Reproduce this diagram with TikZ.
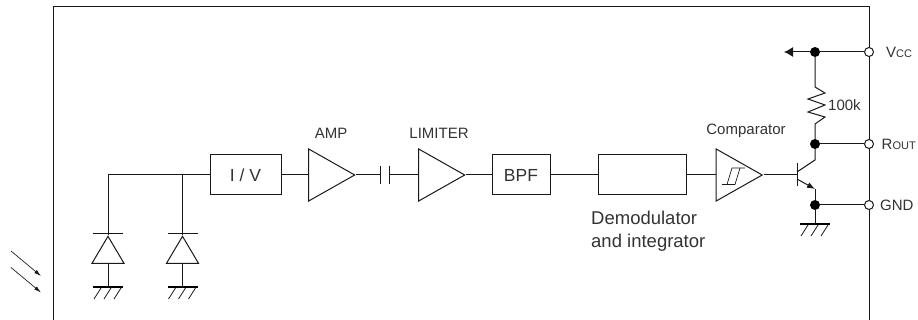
\documentclass[tikz,border=0pt]{standalone}
\usepackage{fontspec}
\setmainfont{Liberation Sans}
\usetikzlibrary{arrows.meta, positioning, shapes.geometric}
\tikzset{
  wire/.style={line width=1pt, draw=black!90},
  block/.style={draw=black!90, line width=1pt, inner sep=0pt, font=\fontsize{17.5}{19}\selectfont, text=black!80},
  amptri/.style={isosceles triangle, isosceles triangle stretches, draw=black!90, line width=1pt, inner sep=0pt, minimum width=52pt, minimum height=46pt, anchor=apex},
  dioderi/.style={isosceles triangle, isosceles triangle stretches, shape border rotate=90, draw=black!90, line width=1pt, inner sep=0pt, minimum width=32pt, minimum height=27pt, anchor=apex},
  dotnode/.style={circle, fill=black, inner sep=0pt, minimum size=10pt},
  pinnode/.style={circle, draw=black!90, fill=white, line width=1pt, inner sep=0pt, minimum size=9pt},
  lbl/.style={inner sep=0pt, text=black!80, font=\fontsize{15}{17}\selectfont},
  lblbig/.style={inner sep=0pt, text=black!80, font=\fontsize{18.5}{23}\selectfont, align=left},
}
\newcommand{\gndmark}[2]{%
  \draw[line width=2.6pt, draw=black] (#1-15,#2) -- (#1+15,#2);
  \foreach \dx in {-14,-4,6} {
    \draw[line width=0.8pt, draw=black!90] (#1+\dx,#2+12) -- (#1+\dx+7,#2+1);
  }
}
\begin{document}
\begin{tikzpicture}[x=1pt, y=-1pt]
  \useasboundingbox (0,0) rectangle (918,320);
  % package outline, open at the bottom
  \coordinate (fbl) at (53,320);
  \coordinate (ftl) at (53,7);
  \coordinate (ftr) at (869,7);
  \coordinate (fbr) at (869,320);
  \draw[wire] (fbl) -- (ftl) -- (ftr) -- (fbr);

  % signal chain
  \node[block, minimum width=71pt, minimum height=40pt] (iv) at (245.5,175) {I / V};
  \node[amptri] (amp) at (356,175) {};
  \coordinate (capl) at (380,175);
  \coordinate (capr) at (389,175);
  \node[amptri] (lim) at (466,175) {};
  \node[block, minimum width=58pt, minimum height=40pt] (bpf) at (521,175) {BPF};
  \node[block, minimum width=88pt, minimum height=40pt] (dem) at (642,175) {};
  \node[amptri] (cmp) at (763.5,175) {};
  \draw[wire] (iv.east) -- (amp.lower side);
  \draw[wire] (amp.apex) -- (capl);
  \draw[wire] (capr) -- (lim.lower side);
  \draw[wire] (capl) ++(0,-9) -- ++(0,18);
  \draw[wire] (capr) ++(0,-9) -- ++(0,18);
  \draw[wire] (lim.apex) -- (bpf.west);
  \draw[wire] (bpf.east) -- (dem.west);
  \draw[wire] (dem.east) -- (cmp.lower side);
  \draw[wire, line width=0.7pt] (722,184.5) -- (735,184.5) (727,184.5) -- (732,168) -- (745,168) (740,168) -- (735,184.5);

  % photodiodes
  \coordinate (tee) at (182.5,175);
  \coordinate (cnr) at (108,175);
  \node[dioderi] (da) at (108,235) {};
  \node[dioderi] (db) at (182.5,235) {};
  \coordinate (ga) at (108,287);
  \coordinate (gb) at (182.5,287);
  \draw[wire] (iv.west) -- (cnr) -- (da.apex);
  \draw[wire] (tee) -- (db.apex);
  \draw[wire] (93,234) -- (123,234);
  \draw[wire] (167.5,234) -- (197.5,234);
  \draw[wire] (da.lower side) -- (ga);
  \draw[wire] (db.lower side) -- (gb);
  \gndmark{108}{287}
  \gndmark{182.5}{287}

  % light
  \coordinate (la) at (11,251);
  \coordinate (lb) at (41,276);
  \coordinate (lc) at (11,267.5);
  \coordinate (ld) at (41,292.5);
  \draw[wire, line width=0.7pt, -{Latex[length=7pt,width=4pt]}] (la) -- (lb);
  \draw[wire, line width=0.7pt, -{Latex[length=7pt,width=4pt]}] (lc) -- (ld);

  % output stage
  \node[dotnode] (dvcc) at (815,52) {};
  \node[dotnode] (drout) at (815,144) {};
  \node[dotnode] (dgnd) at (815,205) {};
  \node[pinnode] (pvcc) at (869,52) {};
  \node[pinnode] (prout) at (869,144) {};
  \node[pinnode] (pgnd) at (869,205) {};
  \coordinate (vin) at (784,52);
  \coordinate (base) at (797,175);
  \coordinate (coll) at (815,160);
  \coordinate (emit) at (815,189);
  \coordinate (gc) at (815,224);
  \draw[wire, -{Latex[length=9pt,width=10pt]}] (dvcc) -- (vin);
  \draw[wire] (dvcc) -- (pvcc);
  \draw[wire] (drout) -- (prout);
  \draw[wire] (dgnd) -- (pgnd);
  \draw[wire] (dvcc) -- (815,87) -- (825,93) -- (808,99) -- (825,105) -- (808,112) -- (825,117) -- (815,124) -- (drout);
  \draw[wire] (cmp.apex) -- (base);
  \draw[wire] (797,163) -- (797,186);
  \draw[wire] (797,172) -- (coll) -- (drout);
  \draw[wire, -{Latex[length=8pt,width=6pt]}] (797,179) -- (emit);
  \draw[wire] (emit) -- (dgnd) -- (gc);
  \gndmark{815}{224}

  % labels
  \node[lbl] (lamp) at (331,133) {AMP};
  \node[lbl] (llim) at (439,133) {LIMITER};
  \node[lbl] (lcmp) at (746,131) {Comparator};
  \node[lblbig, anchor=north west] (ldem) at (591,211) {Demodulator\\and integrator};
  \node[lbl, anchor=west] (lres) at (828,105) {100k};
  \node[lbl, anchor=west] (lvcc) at (886,52) {V{\fontsize{11}{12}\selectfont CC}};
  \node[lbl, anchor=west] (lrout) at (881.5,144) {R{\fontsize{11}{12}\selectfont OUT}};
  \node[lbl, anchor=west] (lgnd) at (880,205) {GND};
\end{tikzpicture}
\end{document}
